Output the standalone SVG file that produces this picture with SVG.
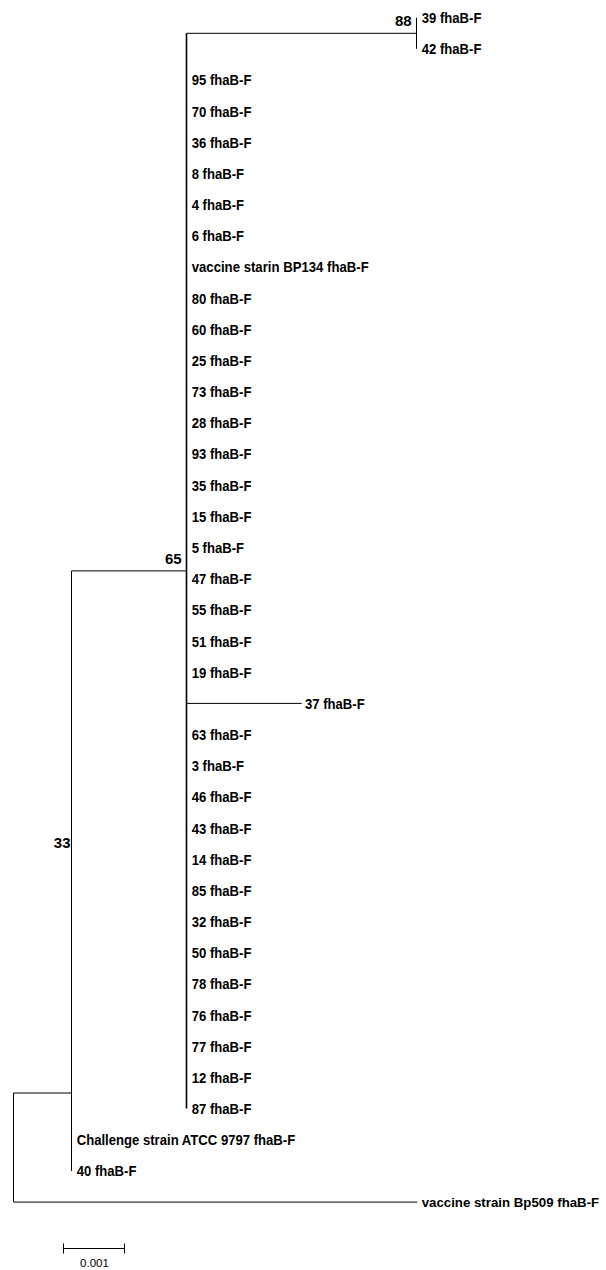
<svg xmlns="http://www.w3.org/2000/svg" width="606" height="1270" viewBox="0 0 606 1270">
<style>
.lbl{font-family:"Liberation Sans",Arial,sans-serif;font-weight:bold;font-size:15px;fill:#000}
.bs{font-family:"Liberation Sans",Arial,sans-serif;font-weight:bold;font-size:15px;fill:#000;text-anchor:end}
.sc{font-family:"Liberation Sans",Arial,sans-serif;font-size:11.5px;fill:#000;text-anchor:middle}
.br{stroke:#000;stroke-width:1;fill:none}
.bk{stroke:#000;stroke-width:1.6;fill:none}
</style>
<rect width="606" height="1270" fill="#fff"/>
<g id="connectors">
<line class="br" x1="416.5" y1="17.7" x2="416.5" y2="48.8"/>
<line class="br" x1="186.5" y1="33.3" x2="416.5" y2="33.3"/>
<line class="bk" x1="186.5" y1="33.3" x2="186.5" y2="1108.6"/>
<line class="br" x1="71.5" y1="570.9" x2="186.5" y2="570.9"/>
<line class="br" x1="186.5" y1="703.4" x2="301.7" y2="703.4"/>
<line class="br" x1="71.5" y1="570.9" x2="71.5" y2="1171"/>
<line class="br" x1="13.5" y1="1093" x2="71.5" y2="1093"/>
<line class="br" x1="13.5" y1="1093" x2="13.5" y2="1202.1"/>
<line class="br" x1="13.5" y1="1202.1" x2="417.3" y2="1202.1"/>
</g>
<g id="bootstrap">
<text id="bs88" class="bs" x="411.7" y="25.9">88</text>
<text id="bs65" class="bs" x="181.7" y="563.5">65</text>
<text id="bs33" class="bs" x="70.5" y="847.5">33</text>
</g>
<g id="leaves">
<g id="n39"><text class="lbl" x="421.7" y="23.1" textLength="59.7" lengthAdjust="spacingAndGlyphs">39 fhaB-F</text></g>
<g id="n42"><text class="lbl" x="421.7" y="54.2" textLength="59.7" lengthAdjust="spacingAndGlyphs">42 fhaB-F</text></g>
<g id="n95"><text class="lbl" x="191.7" y="85.4" textLength="59.7" lengthAdjust="spacingAndGlyphs">95 fhaB-F</text></g>
<g id="n70"><text class="lbl" x="191.7" y="116.6" textLength="59.7" lengthAdjust="spacingAndGlyphs">70 fhaB-F</text></g>
<g id="n36"><text class="lbl" x="191.7" y="147.7" textLength="59.7" lengthAdjust="spacingAndGlyphs">36 fhaB-F</text></g>
<g id="n8"><text class="lbl" x="191.7" y="178.9" textLength="52.4" lengthAdjust="spacingAndGlyphs">8 fhaB-F</text></g>
<g id="n4"><text class="lbl" x="191.7" y="210.1" textLength="52.4" lengthAdjust="spacingAndGlyphs">4 fhaB-F</text></g>
<g id="n6"><text class="lbl" x="191.7" y="241.3" textLength="52.4" lengthAdjust="spacingAndGlyphs">6 fhaB-F</text></g>
<g id="nBP134"><text class="lbl" x="191.7" y="272.4" textLength="177" lengthAdjust="spacingAndGlyphs">vaccine starin BP134 fhaB-F</text></g>
<g id="n80"><text class="lbl" x="191.7" y="303.6" textLength="59.7" lengthAdjust="spacingAndGlyphs">80 fhaB-F</text></g>
<g id="n60"><text class="lbl" x="191.7" y="334.8" textLength="59.7" lengthAdjust="spacingAndGlyphs">60 fhaB-F</text></g>
<g id="n25"><text class="lbl" x="191.7" y="365.9" textLength="59.7" lengthAdjust="spacingAndGlyphs">25 fhaB-F</text></g>
<g id="n73"><text class="lbl" x="191.7" y="397.1" textLength="59.7" lengthAdjust="spacingAndGlyphs">73 fhaB-F</text></g>
<g id="n28"><text class="lbl" x="191.7" y="428.3" textLength="59.7" lengthAdjust="spacingAndGlyphs">28 fhaB-F</text></g>
<g id="n93"><text class="lbl" x="191.7" y="459.4" textLength="59.7" lengthAdjust="spacingAndGlyphs">93 fhaB-F</text></g>
<g id="n35"><text class="lbl" x="191.7" y="490.6" textLength="59.7" lengthAdjust="spacingAndGlyphs">35 fhaB-F</text></g>
<g id="n15"><text class="lbl" x="191.7" y="521.8" textLength="59.7" lengthAdjust="spacingAndGlyphs">15 fhaB-F</text></g>
<g id="n5"><text class="lbl" x="191.7" y="553.0" textLength="52.4" lengthAdjust="spacingAndGlyphs">5 fhaB-F</text></g>
<g id="n47"><text class="lbl" x="191.7" y="584.1" textLength="59.7" lengthAdjust="spacingAndGlyphs">47 fhaB-F</text></g>
<g id="n55"><text class="lbl" x="191.7" y="615.3" textLength="59.7" lengthAdjust="spacingAndGlyphs">55 fhaB-F</text></g>
<g id="n51"><text class="lbl" x="191.7" y="646.5" textLength="59.7" lengthAdjust="spacingAndGlyphs">51 fhaB-F</text></g>
<g id="n19"><text class="lbl" x="191.7" y="677.6" textLength="59.7" lengthAdjust="spacingAndGlyphs">19 fhaB-F</text></g>
<g id="n37"><text class="lbl" x="305" y="708.8" textLength="59.7" lengthAdjust="spacingAndGlyphs">37 fhaB-F</text></g>
<g id="n63"><text class="lbl" x="191.7" y="740.0" textLength="59.7" lengthAdjust="spacingAndGlyphs">63 fhaB-F</text></g>
<g id="n3"><text class="lbl" x="191.7" y="771.1" textLength="52.4" lengthAdjust="spacingAndGlyphs">3 fhaB-F</text></g>
<g id="n46"><text class="lbl" x="191.7" y="802.3" textLength="59.7" lengthAdjust="spacingAndGlyphs">46 fhaB-F</text></g>
<g id="n43"><text class="lbl" x="191.7" y="833.5" textLength="59.7" lengthAdjust="spacingAndGlyphs">43 fhaB-F</text></g>
<g id="n14"><text class="lbl" x="191.7" y="864.7" textLength="59.7" lengthAdjust="spacingAndGlyphs">14 fhaB-F</text></g>
<g id="n85"><text class="lbl" x="191.7" y="895.8" textLength="59.7" lengthAdjust="spacingAndGlyphs">85 fhaB-F</text></g>
<g id="n32"><text class="lbl" x="191.7" y="927.0" textLength="59.7" lengthAdjust="spacingAndGlyphs">32 fhaB-F</text></g>
<g id="n50"><text class="lbl" x="191.7" y="958.2" textLength="59.7" lengthAdjust="spacingAndGlyphs">50 fhaB-F</text></g>
<g id="n78"><text class="lbl" x="191.7" y="989.3" textLength="59.7" lengthAdjust="spacingAndGlyphs">78 fhaB-F</text></g>
<g id="n76"><text class="lbl" x="191.7" y="1020.5" textLength="59.7" lengthAdjust="spacingAndGlyphs">76 fhaB-F</text></g>
<g id="n77"><text class="lbl" x="191.7" y="1051.7" textLength="59.7" lengthAdjust="spacingAndGlyphs">77 fhaB-F</text></g>
<g id="n12"><text class="lbl" x="191.7" y="1082.8" textLength="59.7" lengthAdjust="spacingAndGlyphs">12 fhaB-F</text></g>
<g id="n87"><text class="lbl" x="191.7" y="1114.0" textLength="59.7" lengthAdjust="spacingAndGlyphs">87 fhaB-F</text></g>
<g id="nATCC9797"><text class="lbl" x="76.7" y="1145.2" textLength="218.5" lengthAdjust="spacingAndGlyphs">Challenge strain ATCC 9797 fhaB-F</text></g>
<g id="n40"><text class="lbl" x="76.7" y="1176.4" textLength="59.7" lengthAdjust="spacingAndGlyphs">40 fhaB-F</text></g>
<g id="nBp509"><text class="lbl" x="421.7" y="1207.3" style="font-size:13.2px" textLength="177.5" lengthAdjust="spacingAndGlyphs">vaccine strain Bp509 fhaB-F</text></g>
</g>
<g id="scalebar">
<line class="br" x1="63.5" y1="1248.5" x2="124.5" y2="1248.5"/>
<line class="br" x1="63.5" y1="1243.5" x2="63.5" y2="1253.5"/>
<line class="br" x1="124.5" y1="1243.5" x2="124.5" y2="1253.5"/>
<text class="sc" x="94.5" y="1266.5">0.001</text>
</g>
</svg>
